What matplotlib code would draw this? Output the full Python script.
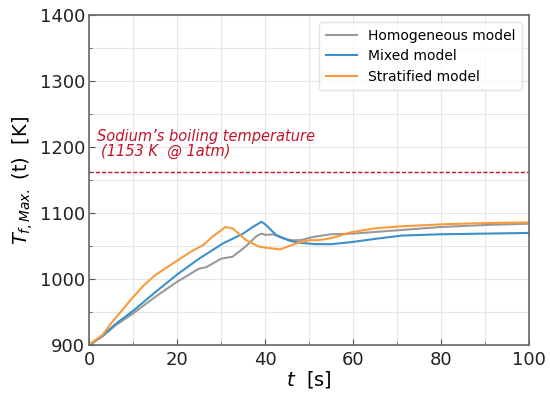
import matplotlib
matplotlib.use("Agg")

import numpy as np
import matplotlib.pyplot as plt
from matplotlib.ticker import MultipleLocator

# ======================================
# DATA
# ======================================

t_homo = [0, 3, 6, 10, 15, 20, 25, 26.6, 30, 32.6, 35.5, 38, 39.2, 40.2, 41.8, 44, 46, 48, 51, 55, 60, 70, 80, 90, 100]
T_homo = [900, 913, 930, 948, 973, 996, 1016, 1018, 1031, 1034, 1049, 1065, 1069, 1067, 1068, 1062, 1059, 1059, 1064, 1068, 1069, 1074, 1079, 1082, 1084]

t_mixed = [0, 3, 6, 10, 15, 20, 25, 30.4, 35, 37.2, 39.2, 40.2, 42.5, 45.6, 48, 51.5, 55, 59.5, 65, 71, 80, 90, 100]
T_mixed = [900, 914, 932, 952, 980, 1007, 1031, 1054, 1069, 1079, 1087, 1082, 1067, 1058, 1055, 1053, 1053, 1056, 1061, 1066, 1068, 1069, 1070]

t_strat = [0, 3, 5, 8, 10, 12.5, 15, 20, 23, 26, 28, 31, 32.6, 35.7, 38.7, 43.4, 47, 50, 52, 55, 59.5, 65, 71, 80, 90, 100]
T_strat = [901, 915, 933, 957, 973, 991, 1006, 1028, 1041, 1052, 1064, 1079, 1077, 1059, 1049, 1045, 1054, 1059, 1059, 1062, 1071, 1077, 1080, 1083, 1085, 1086]

boil_T = 1162


# ======================================
# PLOT
# ======================================

fig=plt.figure(figsize=(5.5,3.99),dpi=100)
ax=fig.add_axes([0.162,0.135,0.8,0.827])

ax.plot(t_homo,T_homo,color="#9a9a9a",lw=1.5,label="Homogeneous model")
ax.plot(t_mixed,T_mixed,color="#3d8fc9",lw=1.5,label="Mixed model")
ax.plot(t_strat,T_strat,color="#f99b3c",lw=1.5,label="Stratified model")

ax.axhline(boil_T,color="#c0142a",lw=1.0,ls=(0,(3,1.5)))

ax.text(1.8,1209,"Sodium\u2019s boiling temperature",color="#c0142a",
        style="italic",fontsize=10.5)
ax.text(2.8,1187,"(1153 K  @ 1atm)",color="#c0142a",
        style="italic",fontsize=10.5)

ax.set_xlim(0,100)
ax.set_ylim(900,1400)

ax.xaxis.set_major_locator(MultipleLocator(20))
ax.xaxis.set_minor_locator(MultipleLocator(10))
ax.yaxis.set_major_locator(MultipleLocator(100))
ax.yaxis.set_minor_locator(MultipleLocator(50))

ax.grid(True,which="both",color="#e6e6e6",lw=0.8)
ax.set_axisbelow(True)

ax.tick_params(which="both",direction="in",color="#555555")
ax.tick_params(which="major",length=4,labelsize=13,labelcolor="#222222")
ax.tick_params(axis="x",which="major",pad=4)
ax.tick_params(axis="y",which="major",pad=3)
ax.tick_params(which="minor",length=2.5)

for s in ax.spines.values():
    s.set_color("#666666")
    s.set_linewidth(1.2)

ax.set_xlabel("$t$  [s]",fontsize=14,labelpad=0)
ax.set_ylabel("$T_{f,Max.}$ (t)  [K]",fontsize=14,labelpad=3)

leg=ax.legend(loc="upper right",fontsize=10,frameon=True,
              handlelength=2.2,borderpad=0.5,labelspacing=0.45)
leg.get_frame().set_edgecolor("#dddddd")

plt.savefig("out.png",dpi=100)
plt.close()
